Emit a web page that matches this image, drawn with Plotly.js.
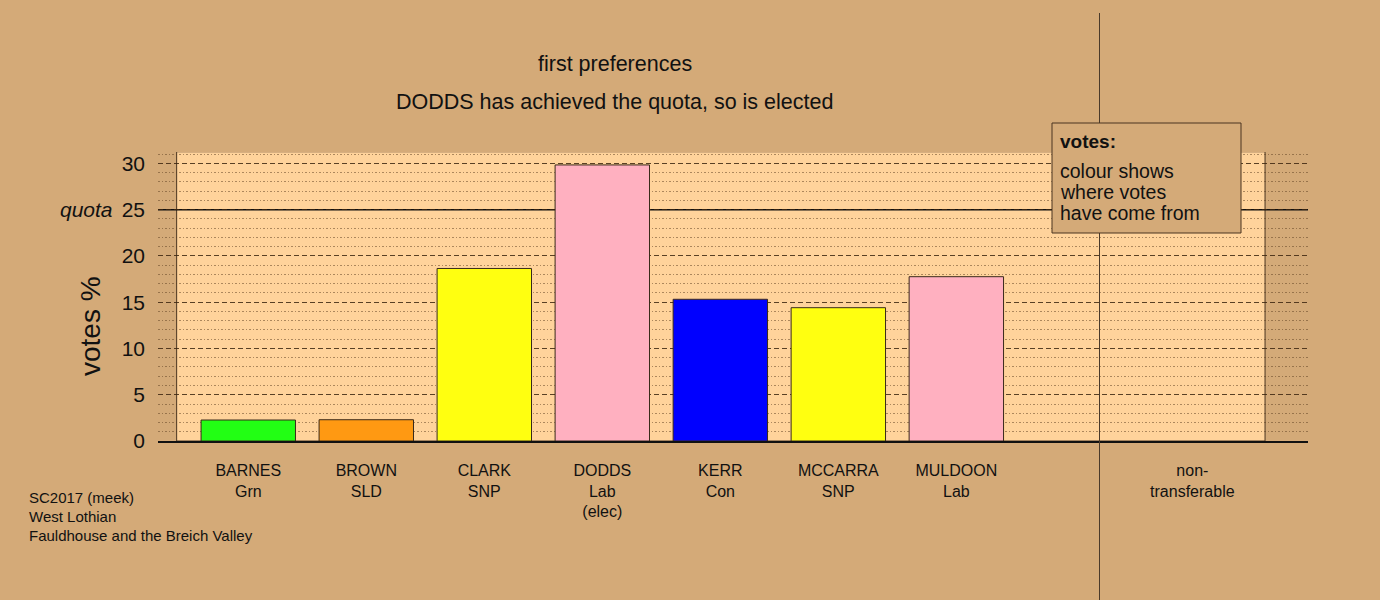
<!DOCTYPE html>
<html>
<head>
<meta charset="utf-8">
<script src="https://cdn.plot.ly/plotly-3.0.1.min.js"></script>
<style>
  html, body { margin: 0; padding: 0; background: #D4AA78; }
  #chart { width: 1380px; height: 600px; }
</style>
</head>
<body>
<div id="chart"></div>
<script>
// ---- data ----
const candidates = ['BARNES', 'BROWN', 'CLARK', 'DODDS', 'KERR', 'MCCARRA', 'MULDOON'];
const parties = ['Grn', 'SLD', 'SNP', 'Lab', 'Con', 'SNP', 'Lab'];
const status = ['', '', '', '(elec)', '', '', ''];
const votesPct = [2.27, 2.30, 18.65, 29.84, 15.32, 14.41, 17.76];
const nonTransferableLabel = 'non-<br>transferable';
const quota = 25;
const quotaLabel = 'quota';
const yAxisTitle = 'votes %';
const titleLines = ['first preferences', 'DODDS has achieved the quota, so is elected'];
const legendTitle = 'votes:';
const legendLines = ['colour shows', 'where votes', 'have come from'];
const footnoteLines = ['SC2017 (meek)', 'West Lothian', 'Fauldhouse and the Breich Valley'];

// ---- styles ----
const barColours = ['#22FF14', '#FF9912', '#FFFF10', '#FFB0C0', '#0000FF', '#FFFF10', '#FFB0C0'];
const bg = '#D4AA78';
const panel = '#FFD39B';
const ink = '#111111';
const FONT = '"Liberation Sans", Arial, Helvetica, sans-serif';

// plot-area geometry (pixels)
const W = 1380, H = 600;
const L = 158, R = 72, T = 152, B = 159;
const pw = W - L - R, ph = H - T - B;
const px = X => (X - L) / pw;          // pixel x -> paper
const py = Y => (H - B - Y) / ph;      // pixel y -> paper
const xRange = [-0.765, 8.98];
const yRange = [0, 31.24];

const xPos = candidates.map((_, i) => i);
const ntPos = candidates.length + 1;
const tickVals = xPos.concat([ntPos]);
const tickText = candidates.map((c, i) => c + '<br>' + parties[i] + (status[i] ? '<br>' + status[i] : ''))
  .concat([nonTransferableLabel]);

const traces = [{
  type: 'bar',
  x: xPos,
  y: votesPct,
  width: 0.8,
  marker: { color: barColours, line: { color: '#3a2a1a', width: 1 } },
  hoverinfo: 'skip'
}];

const shapes = [
  // peach panel
  { type: 'rect', layer: 'below', xref: 'x', yref: 'y', x0: -0.607, x1: 8.616, y0: 0, y1: 31.27,
    fillcolor: panel, line: { color: '#4a3520', width: 1 } },
  // quota line
  { type: 'line', layer: 'below', xref: 'x', yref: 'y', x0: xRange[0], x1: xRange[1], y0: quota, y1: quota,
    line: { color: '#111', width: 1.7 } },
  // separator before non-transferable
  { type: 'line', layer: 'above', xref: 'paper', yref: 'paper', x0: px(1099.5), x1: px(1099.5), y0: py(13), y1: py(600),
    line: { color: '#4a3a2a', width: 1 } },
  // legend box
  { type: 'rect', layer: 'above', xref: 'paper', yref: 'paper', x0: px(1052), x1: px(1241), y0: py(233), y1: py(123),
    fillcolor: bg, line: { color: '#4a3520', width: 1 } }
];

const annotations = [];
titleLines.forEach((t, i) => annotations.push({
  text: t, xref: 'paper', yref: 'paper', x: px(614.5), y: py(i === 0 ? 64 : 102),
  xanchor: 'center', yanchor: 'middle', showarrow: false, font: { family: FONT, size: 21.5, color: ink }
}));
annotations.push({
  text: quotaLabel, xref: 'paper', yref: 'y', x: 0, y: quota, xshift: -43,
  xanchor: 'right', yanchor: 'middle', showarrow: false,
  font: { family: FONT, size: 21, color: ink, style: 'italic' }
});
annotations.push({
  text: yAxisTitle, xref: 'paper', yref: 'paper', x: px(90), y: py(326), textangle: -90,
  xanchor: 'center', yanchor: 'middle', showarrow: false, font: { family: FONT, size: 28, color: ink }
});
annotations.push({
  text: '<b>' + legendTitle + '</b>', xref: 'paper', yref: 'paper', x: px(1058), y: py(142),
  xanchor: 'left', yanchor: 'middle', showarrow: false, font: { family: FONT, size: 19, color: ink }
});
legendLines.forEach((t, i) => annotations.push({
  text: t, xref: 'paper', yref: 'paper', x: px(1058), y: py(171 + 21 * i),
  xanchor: 'left', yanchor: 'middle', showarrow: false, font: { family: FONT, size: 19.5, color: ink }
}));
footnoteLines.forEach((t, i) => annotations.push({
  text: t, xref: 'paper', yref: 'paper', x: px(27), y: py(497 + 19.2 * i),
  xanchor: 'left', yanchor: 'middle', showarrow: false, font: { family: FONT, size: 15, color: ink }
}));

const layout = {
  width: W, height: H,
  margin: { l: L, r: R, t: T, b: B, pad: 0 },
  paper_bgcolor: bg, plot_bgcolor: bg,
  showlegend: false,
  font: { family: FONT, color: ink },
  xaxis: {
    range: xRange, tickmode: 'array', tickvals: tickVals, ticktext: tickText,
    showgrid: false, zeroline: false, showline: true, linecolor: '#111', linewidth: 1.5,
    ticks: '', ticklabelstandoff: 14, tickfont: { family: FONT, size: 16, color: ink }, fixedrange: true
  },
  yaxis: {
    range: yRange, tickmode: 'linear', tick0: 0, dtick: 5,
    showgrid: true, gridcolor: 'rgba(60,38,15,0.85)', gridwidth: 1, griddash: '5px,3px',
    zeroline: false, showline: false, ticks: '', ticklabelstandoff: 12,
    tickfont: { family: FONT, size: 21, color: ink }, fixedrange: true,
    minor: { dtick: 1, tick0: 0, showgrid: true, gridcolor: 'rgba(90,60,30,0.5)', gridwidth: 1, griddash: '1.5px,2px', ticks: '' }
  },
  shapes: shapes,
  annotations: annotations
};

Plotly.newPlot('chart', traces, layout, { staticPlot: true, displayModeBar: false });
</script>
</body>
</html>
